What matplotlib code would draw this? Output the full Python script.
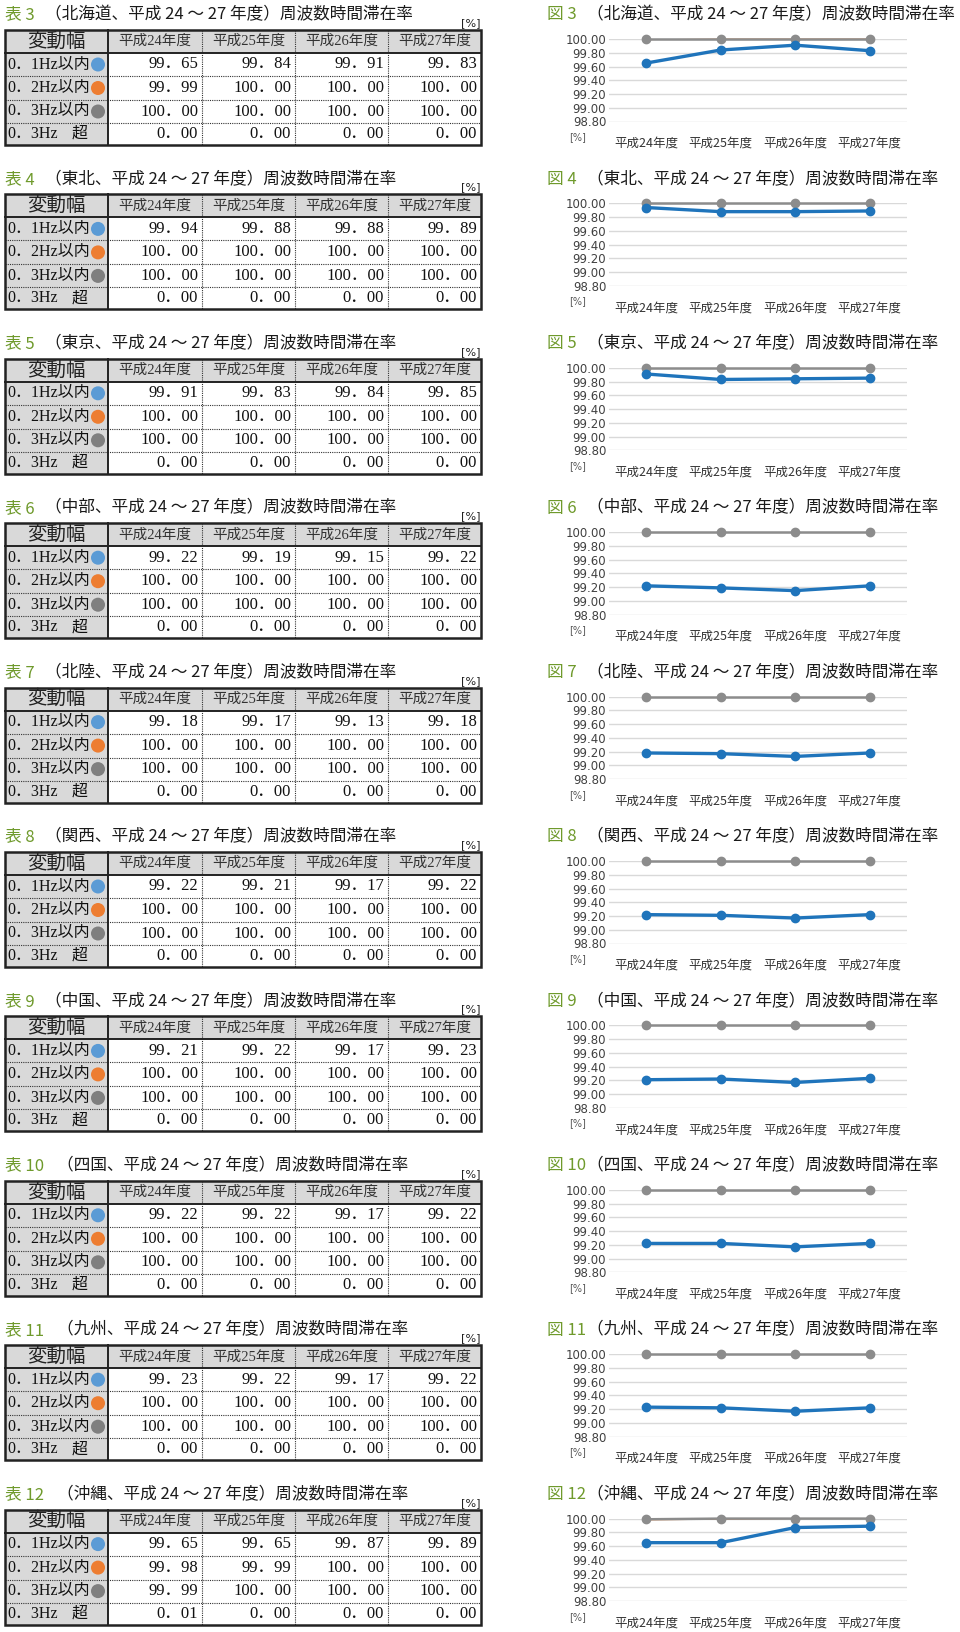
import matplotlib
matplotlib.use('Agg')
import matplotlib.pyplot as plt
from matplotlib.patches import Rectangle, Circle
import numpy as np

plt.rcParams['font.family'] = ['Noto Sans CJK JP', 'DejaVu Sans']

# ---------------- data ----------------
table_nums = [3, 4, 5, 6, 7, 8, 9, 10, 11, 12]
regions = ['北海道', '東北', '東京', '中部', '北陸', '関西', '中国', '四国', '九州', '沖縄']
years = ['平成24年度', '平成25年度', '平成26年度', '平成27年度']
row_labels = ['0.1Hz以内', '0.2Hz以内', '0.3Hz以内', '0.3Hz']
over_mark = '超'
first_header = '変動幅'

hz01 = [
    [99.65, 99.84, 99.91, 99.83],
    [99.94, 99.88, 99.88, 99.89],
    [99.91, 99.83, 99.84, 99.85],
    [99.22, 99.19, 99.15, 99.22],
    [99.18, 99.17, 99.13, 99.18],
    [99.22, 99.21, 99.17, 99.22],
    [99.21, 99.22, 99.17, 99.23],
    [99.22, 99.22, 99.17, 99.22],
    [99.23, 99.22, 99.17, 99.22],
    [99.65, 99.65, 99.87, 99.89],
]
hz02 = [
    [99.99, 100.00, 100.00, 100.00],
    [100.00, 100.00, 100.00, 100.00],
    [100.00, 100.00, 100.00, 100.00],
    [100.00, 100.00, 100.00, 100.00],
    [100.00, 100.00, 100.00, 100.00],
    [100.00, 100.00, 100.00, 100.00],
    [100.00, 100.00, 100.00, 100.00],
    [100.00, 100.00, 100.00, 100.00],
    [100.00, 100.00, 100.00, 100.00],
    [99.98, 99.99, 100.00, 100.00],
]
hz03 = [
    [100.00, 100.00, 100.00, 100.00],
    [100.00, 100.00, 100.00, 100.00],
    [100.00, 100.00, 100.00, 100.00],
    [100.00, 100.00, 100.00, 100.00],
    [100.00, 100.00, 100.00, 100.00],
    [100.00, 100.00, 100.00, 100.00],
    [100.00, 100.00, 100.00, 100.00],
    [100.00, 100.00, 100.00, 100.00],
    [100.00, 100.00, 100.00, 100.00],
    [99.99, 100.00, 100.00, 100.00],
]
over03 = [
    [0.00, 0.00, 0.00, 0.00],
    [0.00, 0.00, 0.00, 0.00],
    [0.00, 0.00, 0.00, 0.00],
    [0.00, 0.00, 0.00, 0.00],
    [0.00, 0.00, 0.00, 0.00],
    [0.00, 0.00, 0.00, 0.00],
    [0.00, 0.00, 0.00, 0.00],
    [0.00, 0.00, 0.00, 0.00],
    [0.00, 0.00, 0.00, 0.00],
    [0.01, 0.00, 0.00, 0.00],
]
y_ticks = [98.80, 99.00, 99.20, 99.40, 99.60, 99.80, 100.00]

# ---------------- style ----------------
W, H = 960, 1632
GREEN = '#6f9a2c'
C_BLUE_DOT = '#5b9bd5'
C_ORANGE_DOT = '#ed7d31'
C_GRAY_DOT = '#7f7f7f'
C_LINE_BLUE = '#1f74bb'
C_LINE_ORANGE = '#ed7d31'
C_LINE_GRAY = '#8c8c8c'
SERIF = ['Liberation Serif', 'Noto Sans CJK JP']
PITCH = 164.4

col_x = [5, 108, 202, 295, 388, 481]
row_y = [30, 53, 76, 100, 123, 145]

fig = plt.figure(figsize=(W / 100, H / 100), dpi=100)
base = fig.add_axes([0, 0, 1, 1])
base.set_xlim(0, W)
base.set_ylim(H, 0)
base.axis('off')


def fw(s):
    return s.replace('.', '．')


for i, (num, reg) in enumerate(zip(table_nums, regions)):
    y0 = i * PITCH
    title_rest = f'（{reg}、平成 24 ～ 27 年度）周波数時間滞在率'
    # ---- table title ----
    base.text(5, y0 + 15, f'表 {num}', color=GREEN, fontsize=12, va='center', ha='left')
    xr = 45 if num < 10 else 57
    base.text(xr, y0 + 15, title_rest, color='#1a1a1a', fontsize=12, va='center', ha='left')
    base.text(481, y0 + 23, '[%]', fontsize=8, va='center', ha='right', color='#222222',
              family=['DejaVu Sans'])

    # ---- table backgrounds ----
    top, bot = y0 + row_y[0], y0 + row_y[-1]
    base.add_patch(Rectangle((col_x[0], top), col_x[-1] - col_x[0], row_y[1] - row_y[0],
                             facecolor='#d9d9d9', edgecolor='none', zorder=1))
    base.add_patch(Rectangle((col_x[0], y0 + row_y[1]), col_x[1] - col_x[0], row_y[-1] - row_y[1],
                             facecolor='#d9d9d9', edgecolor='none', zorder=1))
    # dotted inner lines
    for ry in row_y[2:-1]:
        base.plot([col_x[0], col_x[-1]], [y0 + ry, y0 + ry], color='#333333', lw=0.8,
                  ls=(0, (1, 1)), zorder=2)
    for cx in col_x[2:-1]:
        base.plot([cx, cx], [top, bot], color='#333333', lw=0.8, ls=(0, (1, 1)), zorder=2)
    # solid lines
    base.plot([col_x[0], col_x[-1]], [y0 + row_y[1]] * 2, color='#222222', lw=1.4, zorder=3)
    base.plot([col_x[1]] * 2, [top, bot], color='#222222', lw=1.4, zorder=3)
    base.add_patch(Rectangle((col_x[0], top), col_x[-1] - col_x[0], bot - top,
                             facecolor='none', edgecolor='#222222', lw=1.8, zorder=4))

    # header
    yc = y0 + (row_y[0] + row_y[1]) / 2
    base.text((col_x[0] + col_x[1]) / 2, yc, first_header, fontsize=14, ha='center',
              va='center', family=SERIF, color='#222222', zorder=5)
    for j, yr in enumerate(years):
        base.text((col_x[j + 1] + col_x[j + 2]) / 2, yc, yr, fontsize=10.5, ha='center',
                  va='center', family=SERIF, color='#333333', zorder=5)

    series = [hz01[i], hz02[i], hz03[i], over03[i]]
    dots = [C_BLUE_DOT, C_ORANGE_DOT, C_GRAY_DOT, None]
    for r in range(4):
        yc = y0 + (row_y[r + 1] + row_y[r + 2]) / 2
        base.text(col_x[0] + 2, yc, fw(row_labels[r]), fontsize=11.5, ha='left', va='center',
                  family=SERIF, color='#111111', zorder=5)
        if dots[r] is not None:
            base.add_patch(Circle((98, yc), 7, facecolor=dots[r], edgecolor='none', zorder=5))
        else:
            base.text(88, yc, over_mark, fontsize=11.5, ha='right', va='center', family=SERIF,
                      color='#111111', zorder=5)
        for j, v in enumerate(series[r]):
            base.text(col_x[j + 2] - 4, yc, fw(f'{v:.2f}'), fontsize=12, ha='right',
                      va='center', family=SERIF, color='#111111', zorder=5)

    # ---- chart title ----
    base.text(547, y0 + 15, f'図 {num}', color=GREEN, fontsize=12, va='center', ha='left')
    base.text(587, y0 + 15, title_rest, color='#1a1a1a', fontsize=12, va='center', ha='left')

    # ---- chart ----
    ax_top = y0 + 39
    ax_bot = y0 + 121.5
    ax = fig.add_axes([609 / W, 1 - ax_bot / H, 298 / W, (ax_bot - ax_top) / H])
    ax.set_facecolor('none')
    xs = np.arange(len(years))
    ax.plot(xs, hz02[i], color=C_LINE_ORANGE, lw=0.6, marker='o', ms=2, clip_on=False, zorder=2)
    ax.plot(xs, hz03[i], color=C_LINE_GRAY, lw=1.8, marker='o', ms=6, clip_on=False, zorder=3)
    ax.plot(xs, hz01[i], color=C_LINE_BLUE, lw=2.4, marker='o', ms=6, clip_on=False, zorder=4)
    ax.set_xlim(-0.5, len(years) - 0.5)
    ax.set_ylim(y_ticks[0], y_ticks[-1])
    ax.set_yticks(y_ticks)
    ax.set_yticklabels([f'{t:.2f}' for t in y_ticks], family=['DejaVu Sans'], fontsize=8.5,
                       color='#404040')
    ax.set_xticks(xs)
    ax.set_xticklabels(years, fontsize=9, color='#333333')
    ax.tick_params(axis='y', length=0, pad=2)
    ax.tick_params(axis='x', length=0, pad=11)
    for s in ax.spines.values():
        s.set_visible(False)
    ax.grid(axis='y', color='#d9d9d9', lw=1.0, zorder=0)
    ax.set_axisbelow(True)
    base.text(578, y0 + 137, '[%]', fontsize=7, color='#595959', ha='center', va='center',
              family=['DejaVu Sans'])

fig.savefig('out.png', dpi=100)
